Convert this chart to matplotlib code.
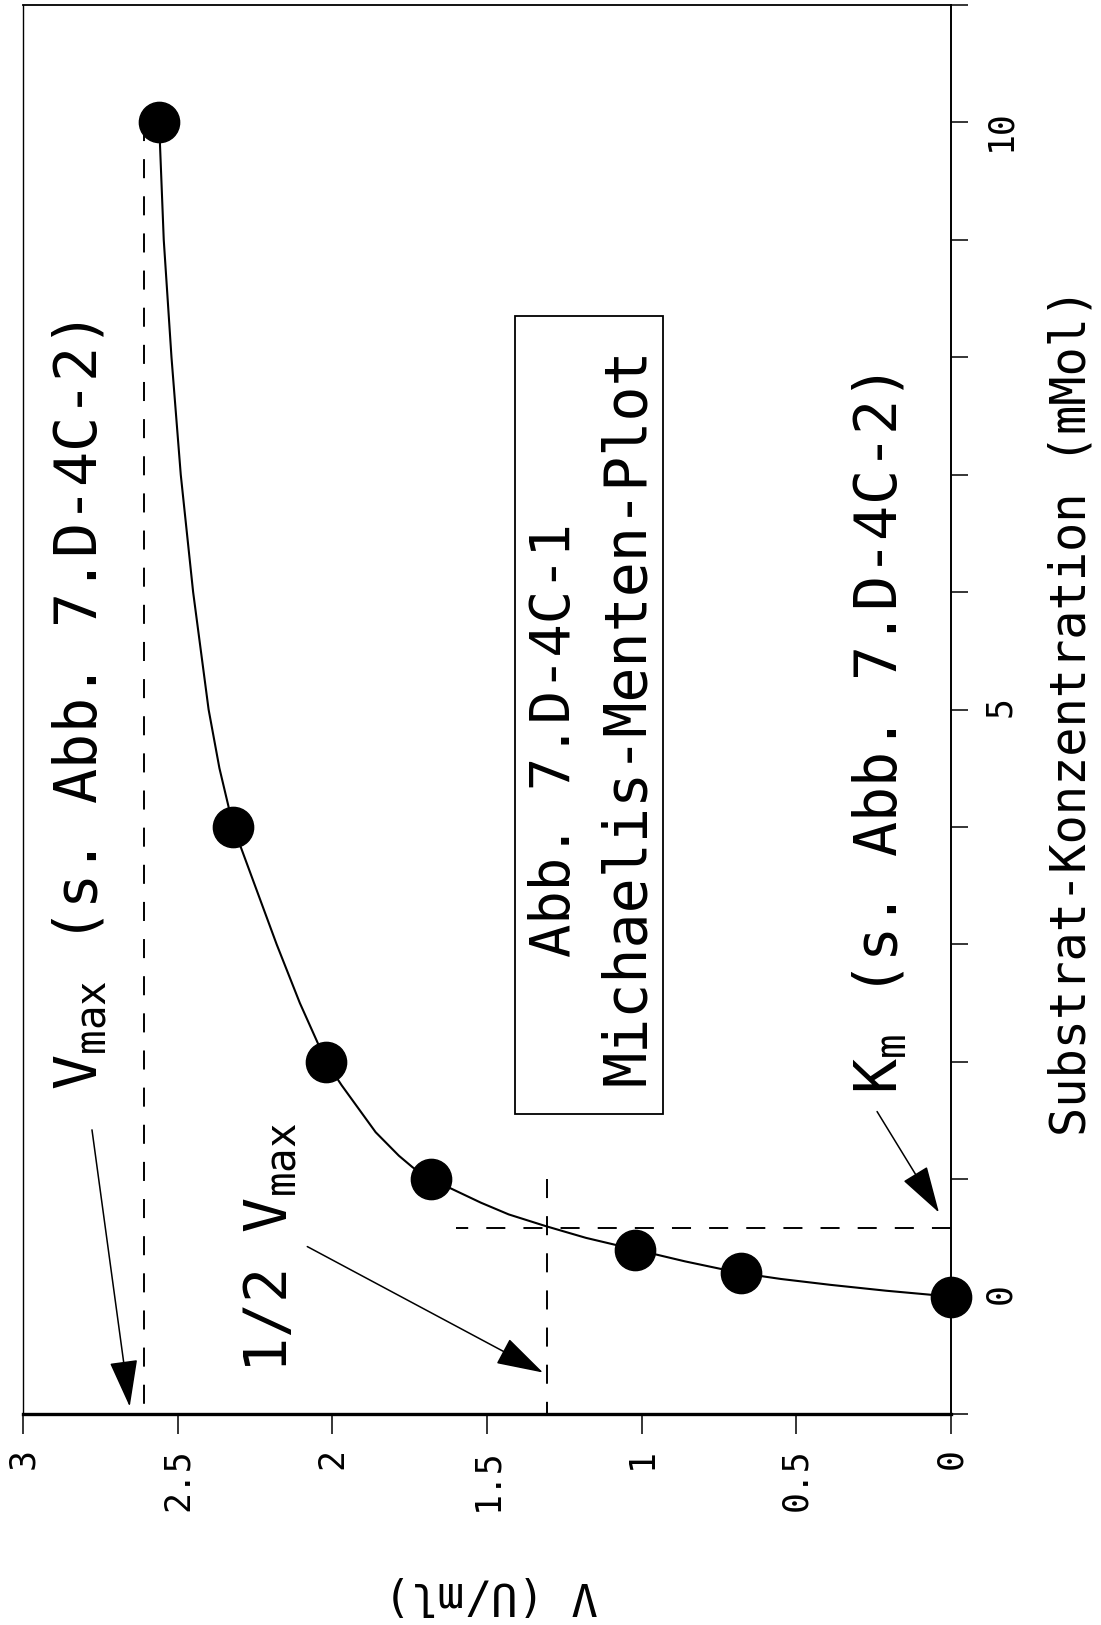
import numpy as np
import matplotlib.pyplot as plt
from matplotlib.patches import Rectangle

plt.rcParams['font.family'] = 'DejaVu Sans Mono'
plt.rcParams['mathtext.fontset'] = 'custom'
plt.rcParams['mathtext.rm'] = 'DejaVu Sans Mono'
plt.rcParams['mathtext.it'] = 'DejaVu Sans Mono'

# Messwerte: Substrat-Konzentration (mMol) und Geschwindigkeit v (U/ml)
substrat = [0, 0.2, 0.4, 1, 2, 4, 10]
geschw = [0, 0.68, 1.02, 1.68, 2.02, 2.32, 2.56]

# Ausgleichskurve
kurve_s = [0, 0.05, 0.1, 0.15, 0.2, 0.3, 0.4, 0.5, 0.6, 0.7, 0.8, 0.9, 1.0,
           1.1, 1.2, 1.4, 1.6, 1.8, 2.0, 2.5, 3.0, 3.5, 4.0, 4.5, 5.0, 6.0,
           7.0, 8.0, 9.0, 10.0]
kurve_v = [0, 0.21, 0.39, 0.55, 0.68, 0.86, 1.02, 1.18, 1.31, 1.43, 1.52, 1.60, 1.68,
           1.74, 1.785, 1.86, 1.915, 1.97, 2.02, 2.105, 2.18, 2.25, 2.32, 2.365, 2.40, 2.45,
           2.49, 2.52, 2.545, 2.56]

vmax = 2.61
km = 0.58
km_linie_bis = 1.6

v_ticks = [0, 0.5, 1, 1.5, 2, 2.5, 3]
v_labels = ['0', '0.5', '1', '1.5', '2', '2.5', '3']
s_ticks = list(range(-1, 12))
s_labels = ['' if t not in (0, 5, 10) else str(t) for t in s_ticks]

W, H = 1101, 1625
fig = plt.figure(figsize=(W/100, H/100), dpi=100)
# Achsen in Pixeln: links 23, rechts 951, oben 5, unten 1414
ax = fig.add_axes([23/W, 1-1414/H, 928/W, 1409/H])
ax.set_xlim(3, 0)
ax.set_ylim(-1, 11)

def fx(X):
    return (X-23)/928
def fy(Y):
    return (1414-Y)/1409

strich = dict(color='k', lw=1.4, dashes=(9.8, 9.3))
ax.plot([vmax, vmax], [substrat[-1], -1], **strich)
ax.plot([vmax/2, vmax/2], [substrat[3], -1], **strich)
ax.plot([0, km_linie_bis], [km, km], **strich)

ax.plot(kurve_v, kurve_s, color='k', lw=1.5)
ax.plot(geschw, substrat, 'o', color='k', ms=29, zorder=3, clip_on=False)

# Achsen / Ticks
ax.set_xticks(v_ticks)
ax.set_xticklabels(v_labels)
ax.yaxis.tick_right()
ax.set_yticks(s_ticks)
ax.set_yticklabels(s_labels)
ax.tick_params(axis='x', direction='out', length=14.4, width=1.1,
               labelsize=25, labelrotation=90, pad=10)
ax.tick_params(axis='y', direction='out', length=12, width=1.1,
               labelsize=25, labelrotation=90, pad=11)
ax.spines['bottom'].set_linewidth(2.4)
ax.spines['right'].set_linewidth(1.4)
ax.spines['top'].set_linewidth(1.3)
ax.spines['left'].set_linewidth(1.0)

ax.text(fx(1085), fy(712), 'Substrat-Konzentration (mMol)', transform=ax.transAxes,
        rotation=90, rotation_mode='anchor', ha='center', va='baseline',
        fontsize=35, clip_on=False)
ax.text(fx(491), fy(1582), 'V (U/ml)', transform=ax.transAxes,
        rotation=180, rotation_mode='anchor', ha='center', va='baseline',
        fontsize=32, clip_on=False)

# Beschriftungen im Diagramm
txt = dict(transform=ax.transAxes, rotation=90, rotation_mode='anchor',
           va='baseline')
ax.text(fx(97), fy(1090), r'$\mathrm{V_{max}}$ (s. Abb. 7.D-4C-2)', ha='left',
        fontsize=42, **txt)
ax.text(fx(287), fy(1373), r'1/2 $\mathrm{V_{max}}$', ha='left', fontsize=42, **txt)
ax.text(fx(897), fy(1094), r'$\mathrm{K_{m}}$ (s. Abb. 7.D-4C-2)', ha='left',
        fontsize=42, **txt)
ax.text(fx(570), fy(740), 'Abb. 7.D-4C-1', ha='center', fontsize=40, **txt)
ax.text(fx(644), fy(716), 'Michaelis-Menten-Plot', ha='center', fontsize=42, **txt)
ax.add_patch(Rectangle((fx(515), fy(1114)), fx(663)-fx(515), fy(316)-fy(1114),
                       transform=ax.transAxes, fill=False, ec='k', lw=1.3))

pfeil = dict(arrowstyle='-|>,head_length=30,head_width=9', mutation_scale=1,
             lw=1.1, color='k', shrinkA=0, shrinkB=0)
ax.annotate('', xy=(2.655, -0.937), xytext=(2.777, 1.42), arrowprops=pfeil,
            annotation_clip=False)
ax.annotate('', xy=(1.319, -0.647), xytext=(2.081, 0.426), arrowprops=pfeil,
            annotation_clip=False)
ax.annotate('', xy=(0.039, 0.716), xytext=(0.239, 1.576), arrowprops=pfeil,
            annotation_clip=False)

fig.savefig('out.png', dpi=100)
